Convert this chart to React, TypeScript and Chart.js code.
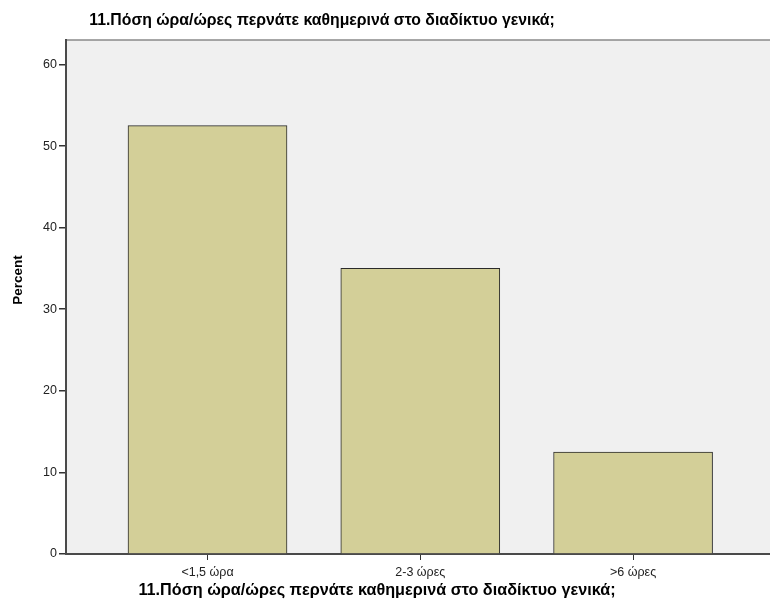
import React, { useEffect, useRef } from "react";
import { Chart, registerables } from "chart.js";

Chart.register(...registerables);

const TITLE = "11.Πόση ώρα/ώρες περνάτε καθημερινά στο διαδίκτυο γενικά;";
const categories = ["<1,5 ώρα", "2-3 ώρες", ">6 ώρες"];
const percentValues = [52.5, 35, 12.5];
const yTicks = [0, 10, 20, 30, 40, 50, 60];
const Y_LABEL = "Percent";

const FONT = "'Liberation Sans', Arial, sans-serif";

const framePlugin = {
  id: "frame",
  beforeDraw(chart: any) {
    const { ctx, chartArea } = chart;
    ctx.save();
    ctx.fillStyle = "#F0F0F0";
    ctx.fillRect(chartArea.left, chartArea.top, chartArea.right - chartArea.left, chartArea.bottom - chartArea.top);
    ctx.strokeStyle = "#8a8a8a";
    ctx.lineWidth = 1.5;
    ctx.beginPath();
    ctx.moveTo(chartArea.left, chartArea.top);
    ctx.lineTo(chartArea.right, chartArea.top);
    ctx.stroke();
    ctx.restore();
  },
  afterDraw(chart: any) {
    const { ctx, chartArea } = chart;
    ctx.save();
    ctx.fillStyle = "#000";
    ctx.textBaseline = "middle";
    ctx.textAlign = "center";
    ctx.font = `bold 15.8px ${FONT}`;
    ctx.fillText(TITLE, chartArea.left + 256, 21);
    ctx.font = `bold 16.2px ${FONT}`;
    ctx.fillText(TITLE, chartArea.left + 311, chartArea.bottom + 37);
    ctx.translate(18, chartArea.top + 240);
    ctx.rotate(-Math.PI / 2);
    ctx.font = `bold 13.5px ${FONT}`;
    ctx.fillText(Y_LABEL, 0, 0);
    ctx.restore();
  },
};

export default function App() {
  const ref = useRef<HTMLCanvasElement>(null);
  useEffect(() => {
    if (!ref.current) return;
    const chart = new Chart(ref.current, {
      type: "bar",
      data: {
        datasets: [
          {
            data: categories.map((_, i) => ({ x: i, y: percentValues[i] })),
            backgroundColor: "#D3CF98",
            borderColor: "#2a2a2a",
            borderWidth: 1,
            barThickness: 159,
          },
        ],
      },
      options: {
        animation: false,
        responsive: false,
        layout: { padding: { left: 0, top: 40, right: 5, bottom: 0 } },
        plugins: { legend: { display: false }, tooltip: { enabled: false }, title: { display: false } },
        scales: {
          x: {
            type: "linear",
            min: -0.665,
            max: 2.667,
            offset: false,
            afterBuildTicks: (scale: any) => {
              scale.ticks = categories.map((_, i) => ({ value: i }));
            },
            afterFit: (scale: any) => {
              scale.height = 58;
            },
            ticks: {
              callback: (v: any) => categories[v as number] ?? "",
              font: { family: FONT, size: 12.5 },
              color: "#222",
              padding: 5,
              maxRotation: 0,
            },
            grid: { display: true, offset: false, drawOnChartArea: false, drawTicks: true, tickLength: 6, color: "#333", lineWidth: 1 },
            border: { display: true, color: "#4a4a4a", width: 2 },
          },
          y: {
            min: 0,
            max: 63,
            afterBuildTicks: (scale: any) => {
              scale.ticks = yTicks.map((v) => ({ value: v }));
            },
            afterFit: (scale: any) => {
              scale.width = 66;
            },
            ticks: {
              font: { family: FONT, size: 12.5 },
              color: "#222",
              padding: 2,
            },
            grid: { display: true, drawOnChartArea: false, drawTicks: true, tickLength: 7, color: "#333", lineWidth: 1.5 },
            border: { display: true, color: "#4a4a4a", width: 2 },
          },
        },
      },
      plugins: [framePlugin],
    });
    return () => chart.destroy();
  }, []);
  return (
    <div style={{ position: "fixed", left: 0, top: 0, width: 780, height: 612, background: "#fff" }}>
      <canvas ref={ref} width={780} height={612} style={{ width: 780, height: 612, display: "block" }} />
    </div>
  );
}
